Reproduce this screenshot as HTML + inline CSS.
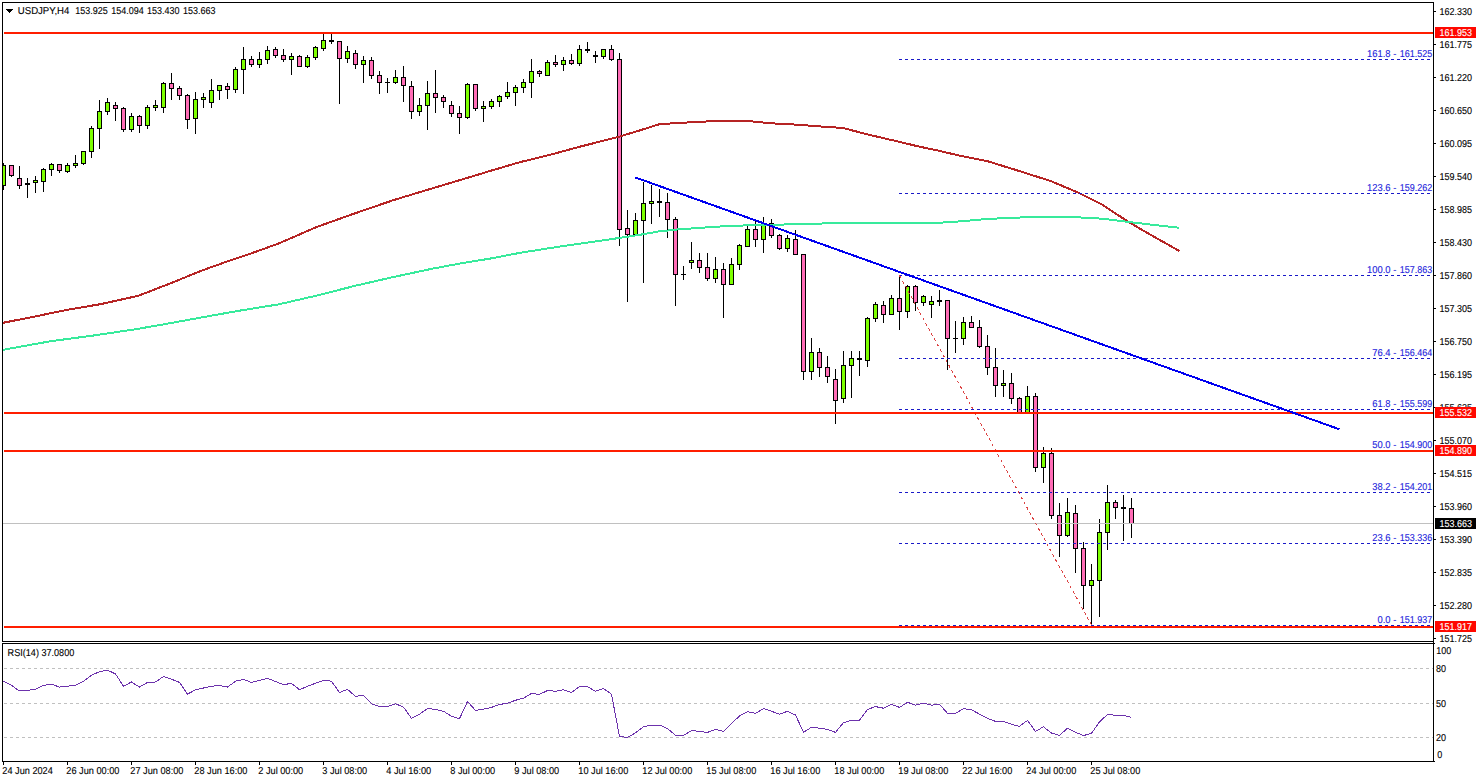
<!DOCTYPE html>
<html><head><meta charset="utf-8"><title>USDJPY,H4</title>
<style>
html,body{margin:0;padding:0;background:#fff;overflow:hidden}
svg{display:block}
text{font-family:"Liberation Sans",sans-serif;font-size:10px;fill:#000;stroke:#000;stroke-width:.12px;text-rendering:geometricPrecision}
.c{shape-rendering:crispEdges}
.fl{fill:#2424dc;stroke:#2424dc}
.w{fill:#fff;stroke:#fff}
</style></head><body>
<svg width="1479" height="782" viewBox="0 0 1479 782">
<rect width="1479" height="782" fill="#fff"/>
<g class="c">
<rect x="3" y="163" width="1" height="27"/><rect x="1" y="165" width="5" height="21"/><rect x="2" y="166" width="3" height="19" fill="#7dff00"/>
<rect x="11" y="165" width="1" height="12"/><rect x="9" y="165" width="5" height="11"/><rect x="10" y="166" width="3" height="9" fill="#ff6cb6"/>
<rect x="19" y="166" width="1" height="23"/><rect x="17" y="178" width="5" height="8"/><rect x="18" y="179" width="3" height="6" fill="#ff6cb6"/>
<rect x="27" y="178" width="1" height="20"/><rect x="25" y="183" width="5" height="2"/>
<rect x="35" y="176" width="1" height="17"/><rect x="33" y="180" width="5" height="3"/><rect x="34" y="181" width="3" height="1" fill="#7dff00"/>
<rect x="43" y="168" width="1" height="24"/><rect x="41" y="169" width="5" height="13"/><rect x="42" y="170" width="3" height="11" fill="#7dff00"/>
<rect x="51" y="163" width="1" height="13"/><rect x="49" y="164" width="5" height="6"/><rect x="50" y="165" width="3" height="4" fill="#7dff00"/>
<rect x="59" y="164" width="1" height="9"/><rect x="57" y="164" width="5" height="7"/><rect x="58" y="165" width="3" height="5" fill="#ff6cb6"/>
<rect x="67" y="163" width="1" height="10"/><rect x="65" y="165" width="5" height="7"/><rect x="66" y="166" width="3" height="5" fill="#7dff00"/>
<rect x="75" y="155" width="1" height="13"/><rect x="73" y="163" width="5" height="3"/><rect x="74" y="164" width="3" height="1" fill="#7dff00"/>
<rect x="83" y="151" width="1" height="14"/><rect x="81" y="151" width="5" height="13"/><rect x="82" y="152" width="3" height="11" fill="#7dff00"/>
<rect x="91" y="126" width="1" height="32"/><rect x="89" y="128" width="5" height="24"/><rect x="90" y="129" width="3" height="22" fill="#7dff00"/>
<rect x="99" y="100" width="1" height="49"/><rect x="97" y="111" width="5" height="18"/><rect x="98" y="112" width="3" height="16" fill="#7dff00"/>
<rect x="107" y="98" width="1" height="17"/><rect x="105" y="102" width="5" height="10"/><rect x="106" y="103" width="3" height="8" fill="#7dff00"/>
<rect x="115" y="102" width="1" height="19"/><rect x="113" y="105" width="5" height="4"/><rect x="114" y="106" width="3" height="2" fill="#ff6cb6"/>
<rect x="123" y="107" width="1" height="25"/><rect x="121" y="108" width="5" height="22"/><rect x="122" y="109" width="3" height="20" fill="#ff6cb6"/>
<rect x="131" y="113" width="1" height="19"/><rect x="129" y="116" width="5" height="14"/><rect x="130" y="117" width="3" height="12" fill="#7dff00"/>
<rect x="139" y="115" width="1" height="18"/><rect x="137" y="116" width="5" height="10"/><rect x="138" y="117" width="3" height="8" fill="#ff6cb6"/>
<rect x="147" y="105" width="1" height="24"/><rect x="145" y="107" width="5" height="19"/><rect x="146" y="108" width="3" height="17" fill="#7dff00"/>
<rect x="155" y="100" width="1" height="11"/><rect x="153" y="105" width="5" height="3"/><rect x="154" y="106" width="3" height="1" fill="#7dff00"/>
<rect x="163" y="82" width="1" height="31"/><rect x="161" y="83" width="5" height="25"/><rect x="162" y="84" width="3" height="23" fill="#7dff00"/>
<rect x="171" y="73" width="1" height="27"/><rect x="169" y="83" width="5" height="6"/><rect x="170" y="84" width="3" height="4" fill="#ff6cb6"/>
<rect x="179" y="86" width="1" height="14"/><rect x="177" y="88" width="5" height="8"/><rect x="178" y="89" width="3" height="6" fill="#ff6cb6"/>
<rect x="187" y="94" width="1" height="35"/><rect x="185" y="95" width="5" height="25"/><rect x="186" y="96" width="3" height="23" fill="#ff6cb6"/>
<rect x="195" y="92" width="1" height="42"/><rect x="193" y="99" width="5" height="20"/><rect x="194" y="100" width="3" height="18" fill="#7dff00"/>
<rect x="203" y="93" width="1" height="15"/><rect x="201" y="97" width="5" height="3"/><rect x="202" y="98" width="3" height="1" fill="#7dff00"/>
<rect x="211" y="79" width="1" height="29"/><rect x="209" y="90" width="5" height="13"/><rect x="210" y="91" width="3" height="11" fill="#7dff00"/>
<rect x="219" y="85" width="1" height="15"/><rect x="217" y="85" width="5" height="6"/><rect x="218" y="86" width="3" height="4" fill="#7dff00"/>
<rect x="227" y="83" width="1" height="16"/><rect x="225" y="86" width="5" height="4"/><rect x="226" y="87" width="3" height="2" fill="#ff6cb6"/>
<rect x="235" y="67" width="1" height="26"/><rect x="233" y="69" width="5" height="21"/><rect x="234" y="70" width="3" height="19" fill="#7dff00"/>
<rect x="243" y="47" width="1" height="47"/><rect x="241" y="59" width="5" height="11"/><rect x="242" y="60" width="3" height="9" fill="#7dff00"/>
<rect x="251" y="56" width="1" height="11"/><rect x="249" y="59" width="5" height="6"/><rect x="250" y="60" width="3" height="4" fill="#ff6cb6"/>
<rect x="259" y="52" width="1" height="16"/><rect x="257" y="59" width="5" height="6"/><rect x="258" y="60" width="3" height="4" fill="#7dff00"/>
<rect x="267" y="46" width="1" height="18"/><rect x="265" y="50" width="5" height="10"/><rect x="266" y="51" width="3" height="8" fill="#7dff00"/>
<rect x="275" y="47" width="1" height="11"/><rect x="273" y="49" width="5" height="7"/><rect x="274" y="50" width="3" height="5" fill="#ff6cb6"/>
<rect x="283" y="49" width="1" height="13"/><rect x="281" y="55" width="5" height="5"/><rect x="282" y="56" width="3" height="3" fill="#ff6cb6"/>
<rect x="291" y="53" width="1" height="22"/><rect x="289" y="56" width="5" height="4"/><rect x="290" y="57" width="3" height="2" fill="#7dff00"/>
<rect x="299" y="55" width="1" height="12"/><rect x="297" y="56" width="5" height="11"/><rect x="298" y="57" width="3" height="9" fill="#ff6cb6"/>
<rect x="307" y="55" width="1" height="13"/><rect x="305" y="57" width="5" height="10"/><rect x="306" y="58" width="3" height="8" fill="#7dff00"/>
<rect x="315" y="46" width="1" height="14"/><rect x="313" y="47" width="5" height="11"/><rect x="314" y="48" width="3" height="9" fill="#7dff00"/>
<rect x="323" y="34" width="1" height="17"/><rect x="321" y="40" width="5" height="9"/><rect x="322" y="41" width="3" height="7" fill="#7dff00"/>
<rect x="331" y="34" width="1" height="10"/><rect x="329" y="40" width="5" height="2"/>
<rect x="339" y="41" width="1" height="63"/><rect x="337" y="41" width="5" height="18"/><rect x="338" y="42" width="3" height="16" fill="#ff6cb6"/>
<rect x="347" y="46" width="1" height="17"/><rect x="345" y="51" width="5" height="8"/><rect x="346" y="52" width="3" height="6" fill="#7dff00"/>
<rect x="355" y="50" width="1" height="19"/><rect x="353" y="53" width="5" height="12"/><rect x="354" y="54" width="3" height="10" fill="#ff6cb6"/>
<rect x="363" y="56" width="1" height="27"/><rect x="361" y="60" width="5" height="5"/><rect x="362" y="61" width="3" height="3" fill="#7dff00"/>
<rect x="371" y="57" width="1" height="22"/><rect x="369" y="60" width="5" height="16"/><rect x="370" y="61" width="3" height="14" fill="#ff6cb6"/>
<rect x="379" y="71" width="1" height="23"/><rect x="377" y="75" width="5" height="8"/><rect x="378" y="76" width="3" height="6" fill="#ff6cb6"/>
<rect x="387" y="78" width="1" height="15"/><rect x="385" y="82" width="5" height="1"/>
<rect x="395" y="70" width="1" height="14"/><rect x="393" y="77" width="5" height="6"/><rect x="394" y="78" width="3" height="4" fill="#7dff00"/>
<rect x="403" y="66" width="1" height="36"/><rect x="401" y="77" width="5" height="9"/><rect x="402" y="78" width="3" height="7" fill="#ff6cb6"/>
<rect x="411" y="81" width="1" height="38"/><rect x="409" y="86" width="5" height="26"/><rect x="410" y="87" width="3" height="24" fill="#ff6cb6"/>
<rect x="419" y="98" width="1" height="18"/><rect x="417" y="105" width="5" height="7"/><rect x="418" y="106" width="3" height="5" fill="#7dff00"/>
<rect x="427" y="81" width="1" height="49"/><rect x="425" y="93" width="5" height="13"/><rect x="426" y="94" width="3" height="11" fill="#7dff00"/>
<rect x="435" y="70" width="1" height="43"/><rect x="433" y="93" width="5" height="5"/><rect x="434" y="94" width="3" height="3" fill="#ff6cb6"/>
<rect x="443" y="95" width="1" height="13"/><rect x="441" y="97" width="5" height="5"/><rect x="442" y="98" width="3" height="3" fill="#ff6cb6"/>
<rect x="451" y="101" width="1" height="16"/><rect x="449" y="105" width="5" height="9"/><rect x="450" y="106" width="3" height="7" fill="#ff6cb6"/>
<rect x="459" y="106" width="1" height="28"/><rect x="457" y="113" width="5" height="5"/><rect x="458" y="114" width="3" height="3" fill="#ff6cb6"/>
<rect x="467" y="83" width="1" height="36"/><rect x="465" y="84" width="5" height="34"/><rect x="466" y="85" width="3" height="32" fill="#7dff00"/>
<rect x="475" y="84" width="1" height="27"/><rect x="473" y="84" width="5" height="25"/><rect x="474" y="85" width="3" height="23" fill="#ff6cb6"/>
<rect x="483" y="101" width="1" height="21"/><rect x="481" y="106" width="5" height="3"/><rect x="482" y="107" width="3" height="1" fill="#7dff00"/>
<rect x="491" y="99" width="1" height="10"/><rect x="489" y="101" width="5" height="6"/><rect x="490" y="102" width="3" height="4" fill="#7dff00"/>
<rect x="499" y="95" width="1" height="12"/><rect x="497" y="96" width="5" height="6"/><rect x="498" y="97" width="3" height="4" fill="#7dff00"/>
<rect x="507" y="82" width="1" height="17"/><rect x="505" y="92" width="5" height="5"/><rect x="506" y="93" width="3" height="3" fill="#7dff00"/>
<rect x="515" y="85" width="1" height="21"/><rect x="513" y="87" width="5" height="6"/><rect x="514" y="88" width="3" height="4" fill="#7dff00"/>
<rect x="523" y="79" width="1" height="14"/><rect x="521" y="82" width="5" height="6"/><rect x="522" y="83" width="3" height="4" fill="#7dff00"/>
<rect x="531" y="59" width="1" height="39"/><rect x="529" y="71" width="5" height="12"/><rect x="530" y="72" width="3" height="10" fill="#7dff00"/>
<rect x="539" y="70" width="1" height="7"/><rect x="537" y="71" width="5" height="3"/><rect x="538" y="72" width="3" height="1" fill="#ff6cb6"/>
<rect x="547" y="60" width="1" height="16"/><rect x="545" y="62" width="5" height="14"/><rect x="546" y="63" width="3" height="12" fill="#7dff00"/>
<rect x="555" y="55" width="1" height="12"/><rect x="553" y="62" width="5" height="3"/><rect x="554" y="63" width="3" height="1" fill="#ff6cb6"/>
<rect x="563" y="57" width="1" height="14"/><rect x="561" y="60" width="5" height="5"/><rect x="562" y="61" width="3" height="3" fill="#7dff00"/>
<rect x="571" y="54" width="1" height="11"/><rect x="569" y="60" width="5" height="4"/><rect x="570" y="61" width="3" height="2" fill="#ff6cb6"/>
<rect x="579" y="45" width="1" height="21"/><rect x="577" y="49" width="5" height="15"/><rect x="578" y="50" width="3" height="13" fill="#7dff00"/>
<rect x="587" y="42" width="1" height="11"/><rect x="585" y="49" width="5" height="2"/>
<rect x="595" y="51" width="1" height="12"/><rect x="593" y="55" width="5" height="2"/>
<rect x="603" y="49" width="1" height="10"/><rect x="601" y="49" width="5" height="8"/><rect x="602" y="50" width="3" height="6" fill="#7dff00"/>
<rect x="611" y="45" width="1" height="16"/><rect x="609" y="49" width="5" height="11"/><rect x="610" y="50" width="3" height="9" fill="#ff6cb6"/>
<rect x="619" y="53" width="1" height="193"/><rect x="617" y="59" width="5" height="171"/><rect x="618" y="60" width="3" height="169" fill="#ff6cb6"/>
<rect x="627" y="210" width="1" height="92"/><rect x="625" y="228" width="5" height="7"/><rect x="626" y="229" width="3" height="5" fill="#ff6cb6"/>
<rect x="635" y="213" width="1" height="22"/><rect x="633" y="220" width="5" height="15"/><rect x="634" y="221" width="3" height="13" fill="#7dff00"/>
<rect x="643" y="182" width="1" height="101"/><rect x="641" y="203" width="5" height="18"/><rect x="642" y="204" width="3" height="16" fill="#7dff00"/>
<rect x="651" y="185" width="1" height="39"/><rect x="649" y="201" width="5" height="3"/><rect x="650" y="202" width="3" height="1" fill="#7dff00"/>
<rect x="659" y="189" width="1" height="28"/><rect x="657" y="201" width="5" height="2"/>
<rect x="667" y="193" width="1" height="45"/><rect x="665" y="202" width="5" height="18"/><rect x="666" y="203" width="3" height="16" fill="#ff6cb6"/>
<rect x="675" y="217" width="1" height="89"/><rect x="673" y="219" width="5" height="56"/><rect x="674" y="220" width="3" height="54" fill="#ff6cb6"/>
<rect x="683" y="266" width="1" height="14"/><rect x="681" y="274" width="5" height="1"/>
<rect x="691" y="242" width="1" height="27"/><rect x="689" y="260" width="5" height="3"/><rect x="690" y="261" width="3" height="1" fill="#7dff00"/>
<rect x="699" y="253" width="1" height="20"/><rect x="697" y="260" width="5" height="8"/><rect x="698" y="261" width="3" height="6" fill="#ff6cb6"/>
<rect x="707" y="253" width="1" height="28"/><rect x="705" y="267" width="5" height="12"/><rect x="706" y="268" width="3" height="10" fill="#ff6cb6"/>
<rect x="715" y="257" width="1" height="26"/><rect x="713" y="269" width="5" height="10"/><rect x="714" y="270" width="3" height="8" fill="#7dff00"/>
<rect x="723" y="263" width="1" height="55"/><rect x="721" y="269" width="5" height="16"/><rect x="722" y="270" width="3" height="14" fill="#ff6cb6"/>
<rect x="731" y="258" width="1" height="27"/><rect x="729" y="264" width="5" height="21"/><rect x="730" y="265" width="3" height="19" fill="#7dff00"/>
<rect x="739" y="244" width="1" height="26"/><rect x="737" y="245" width="5" height="20"/><rect x="738" y="246" width="3" height="18" fill="#7dff00"/>
<rect x="747" y="224" width="1" height="23"/><rect x="745" y="229" width="5" height="18"/><rect x="746" y="230" width="3" height="16" fill="#7dff00"/>
<rect x="755" y="221" width="1" height="26"/><rect x="753" y="229" width="5" height="11"/><rect x="754" y="230" width="3" height="9" fill="#ff6cb6"/>
<rect x="763" y="217" width="1" height="36"/><rect x="761" y="223" width="5" height="17"/><rect x="762" y="224" width="3" height="15" fill="#7dff00"/>
<rect x="771" y="219" width="1" height="19"/><rect x="769" y="223" width="5" height="13"/><rect x="770" y="224" width="3" height="11" fill="#ff6cb6"/>
<rect x="779" y="234" width="1" height="16"/><rect x="777" y="235" width="5" height="14"/><rect x="778" y="236" width="3" height="12" fill="#ff6cb6"/>
<rect x="787" y="235" width="1" height="17"/><rect x="785" y="238" width="5" height="11"/><rect x="786" y="239" width="3" height="9" fill="#7dff00"/>
<rect x="795" y="230" width="1" height="25"/><rect x="793" y="239" width="5" height="16"/><rect x="794" y="240" width="3" height="14" fill="#ff6cb6"/>
<rect x="803" y="254" width="1" height="126"/><rect x="801" y="254" width="5" height="118"/><rect x="802" y="255" width="3" height="116" fill="#ff6cb6"/>
<rect x="811" y="338" width="1" height="42"/><rect x="809" y="352" width="5" height="20"/><rect x="810" y="353" width="3" height="18" fill="#7dff00"/>
<rect x="819" y="348" width="1" height="29"/><rect x="817" y="352" width="5" height="16"/><rect x="818" y="353" width="3" height="14" fill="#ff6cb6"/>
<rect x="827" y="356" width="1" height="27"/><rect x="825" y="367" width="5" height="10"/><rect x="826" y="368" width="3" height="8" fill="#ff6cb6"/>
<rect x="835" y="369" width="1" height="55"/><rect x="833" y="379" width="5" height="22"/><rect x="834" y="380" width="3" height="20" fill="#ff6cb6"/>
<rect x="843" y="351" width="1" height="52"/><rect x="841" y="365" width="5" height="34"/><rect x="842" y="366" width="3" height="32" fill="#7dff00"/>
<rect x="851" y="351" width="1" height="47"/><rect x="849" y="358" width="5" height="8"/><rect x="850" y="359" width="3" height="6" fill="#7dff00"/>
<rect x="859" y="351" width="1" height="25"/><rect x="857" y="358" width="5" height="2"/>
<rect x="867" y="317" width="1" height="50"/><rect x="865" y="318" width="5" height="43"/><rect x="866" y="319" width="3" height="41" fill="#7dff00"/>
<rect x="875" y="302" width="1" height="20"/><rect x="873" y="304" width="5" height="15"/><rect x="874" y="305" width="3" height="13" fill="#7dff00"/>
<rect x="883" y="301" width="1" height="22"/><rect x="881" y="305" width="5" height="10"/><rect x="882" y="306" width="3" height="8" fill="#ff6cb6"/>
<rect x="891" y="295" width="1" height="20"/><rect x="889" y="298" width="5" height="17"/><rect x="890" y="299" width="3" height="15" fill="#7dff00"/>
<rect x="899" y="275" width="1" height="55"/><rect x="897" y="298" width="5" height="14"/><rect x="898" y="299" width="3" height="12" fill="#ff6cb6"/>
<rect x="907" y="285" width="1" height="33"/><rect x="905" y="286" width="5" height="26"/><rect x="906" y="287" width="3" height="24" fill="#7dff00"/>
<rect x="915" y="285" width="1" height="26"/><rect x="913" y="286" width="5" height="17"/><rect x="914" y="287" width="3" height="15" fill="#ff6cb6"/>
<rect x="923" y="295" width="1" height="11"/><rect x="921" y="296" width="5" height="7"/><rect x="922" y="297" width="3" height="5" fill="#7dff00"/>
<rect x="931" y="296" width="1" height="22"/><rect x="929" y="301" width="5" height="4"/><rect x="930" y="302" width="3" height="2" fill="#7dff00"/>
<rect x="939" y="290" width="1" height="16"/><rect x="937" y="300" width="5" height="2"/>
<rect x="947" y="300" width="1" height="70"/><rect x="945" y="300" width="5" height="39"/><rect x="946" y="301" width="3" height="37" fill="#ff6cb6"/>
<rect x="955" y="321" width="1" height="32"/><rect x="953" y="338" width="5" height="1"/>
<rect x="963" y="317" width="1" height="28"/><rect x="961" y="322" width="5" height="17"/><rect x="962" y="323" width="3" height="15" fill="#7dff00"/>
<rect x="971" y="316" width="1" height="12"/><rect x="969" y="322" width="5" height="6"/><rect x="970" y="323" width="3" height="4" fill="#ff6cb6"/>
<rect x="979" y="320" width="1" height="28"/><rect x="977" y="327" width="5" height="20"/><rect x="978" y="328" width="3" height="18" fill="#ff6cb6"/>
<rect x="987" y="335" width="1" height="40"/><rect x="985" y="346" width="5" height="22"/><rect x="986" y="347" width="3" height="20" fill="#ff6cb6"/>
<rect x="995" y="348" width="1" height="49"/><rect x="993" y="367" width="5" height="19"/><rect x="994" y="368" width="3" height="17" fill="#ff6cb6"/>
<rect x="1003" y="370" width="1" height="27"/><rect x="1001" y="383" width="5" height="3"/><rect x="1002" y="384" width="3" height="1" fill="#7dff00"/>
<rect x="1011" y="373" width="1" height="31"/><rect x="1009" y="383" width="5" height="16"/><rect x="1010" y="384" width="3" height="14" fill="#ff6cb6"/>
<rect x="1019" y="397" width="1" height="16"/><rect x="1017" y="398" width="5" height="15"/><rect x="1018" y="399" width="3" height="13" fill="#ff6cb6"/>
<rect x="1027" y="386" width="1" height="27"/><rect x="1025" y="396" width="5" height="17"/><rect x="1026" y="397" width="3" height="15" fill="#7dff00"/>
<rect x="1035" y="393" width="1" height="79"/><rect x="1033" y="396" width="5" height="72"/><rect x="1034" y="397" width="3" height="70" fill="#ff6cb6"/>
<rect x="1043" y="447" width="1" height="36"/><rect x="1041" y="453" width="5" height="15"/><rect x="1042" y="454" width="3" height="13" fill="#7dff00"/>
<rect x="1051" y="448" width="1" height="71"/><rect x="1049" y="453" width="5" height="63"/><rect x="1050" y="454" width="3" height="61" fill="#ff6cb6"/>
<rect x="1059" y="503" width="1" height="54"/><rect x="1057" y="515" width="5" height="21"/><rect x="1058" y="516" width="3" height="19" fill="#ff6cb6"/>
<rect x="1067" y="498" width="1" height="39"/><rect x="1065" y="512" width="5" height="24"/><rect x="1066" y="513" width="3" height="22" fill="#7dff00"/>
<rect x="1075" y="505" width="1" height="68"/><rect x="1073" y="513" width="5" height="36"/><rect x="1074" y="514" width="3" height="34" fill="#ff6cb6"/>
<rect x="1083" y="542" width="1" height="67"/><rect x="1081" y="548" width="5" height="38"/><rect x="1082" y="549" width="3" height="36" fill="#ff6cb6"/>
<rect x="1091" y="564" width="1" height="62"/><rect x="1089" y="580" width="5" height="6"/><rect x="1090" y="581" width="3" height="4" fill="#7dff00"/>
<rect x="1099" y="519" width="1" height="98"/><rect x="1097" y="532" width="5" height="49"/><rect x="1098" y="533" width="3" height="47" fill="#7dff00"/>
<rect x="1107" y="485" width="1" height="65"/><rect x="1105" y="502" width="5" height="31"/><rect x="1106" y="503" width="3" height="29" fill="#7dff00"/>
<rect x="1115" y="500" width="1" height="19"/><rect x="1113" y="502" width="5" height="6"/><rect x="1114" y="503" width="3" height="4" fill="#ff6cb6"/>
<rect x="1123" y="495" width="1" height="46"/><rect x="1121" y="507" width="5" height="2"/>
<rect x="1131" y="498" width="1" height="40"/><rect x="1129" y="508" width="5" height="16"/><rect x="1130" y="509" width="3" height="14" fill="#ff6cb6"/>
</g>
<rect x="0" y="0" width="3" height="782" fill="#fff"/>
<path d="M2.0 323.0 L33.8 316.7 L67.6 309.8 L101.4 304.0 L138.6 295.7 L169.0 283.9 L202.8 270.2 L228.2 261.1 L250.0 253.8 L278.4 243.6 L316.7 227.0 L355.1 213.3 L393.5 200.1 L431.8 188.5 L460.6 179.9 L490.0 171.0 L519.7 162.2 L549.4 155.0 L579.1 146.9 L618.8 136.8 L638.6 130.8 L659.4 124.2 L678.3 123.0 L698.1 121.9 L717.9 120.9 L745.8 120.8 L769.6 123.2 L799.3 124.8 L819.1 126.4 L842.9 128.0 L868.7 134.7 L898.4 141.6 L918.3 146.4 L938.1 150.6 L960.0 155.7 L987.8 161.3 L1019.5 171.1 L1051.2 181.2 L1079.0 193.0 L1102.7 204.9 L1128.5 222.0 L1148.3 233.5 L1179.3 251.0" class="c" fill="none" stroke="#b62424" stroke-width="2" stroke-linejoin="round"/>
<path d="M2.0 350.0 L50.7 341.2 L93.0 335.6 L135.2 329.3 L169.0 323.4 L202.8 317.2 L240.0 310.6 L278.4 304.4 L316.7 295.6 L355.1 285.8 L393.5 277.0 L431.8 268.8 L460.6 263.4 L490.0 258.6 L519.7 252.9 L559.3 246.6 L599.0 241.0 L618.8 238.0 L638.6 235.0 L658.4 231.5 L678.3 229.4 L698.1 228.0 L717.9 226.6 L740.0 225.6 L759.7 225.0 L799.3 224.2 L839.0 223.0 L878.6 222.8 L918.3 222.9 L938.1 222.8 L957.9 221.5 L989.7 218.8 L1027.4 217.2 L1075.0 217.2 L1102.7 218.7 L1128.5 222.0 L1158.3 225.4 L1179.3 227.8" class="c" fill="none" stroke="#38ea9c" stroke-width="2" stroke-linejoin="round"/>
<rect class="c" x="3" y="523" width="1430" height="1" fill="#c0c0c0"/>
<line class="c" x1="899" x2="1430" y1="59.5" y2="59.5" stroke="#1a1ac8" stroke-width="1" stroke-dasharray="3 3"/><text class="fl" x="1396.3" y="57" text-anchor="end" textLength="29.3" lengthAdjust="spacingAndGlyphs">161.8 -</text><text class="fl" x="1432.2" y="57" text-anchor="end" textLength="32.4" lengthAdjust="spacingAndGlyphs">161.525</text>
<line class="c" x1="899" x2="1430" y1="193.5" y2="193.5" stroke="#1a1ac8" stroke-width="1" stroke-dasharray="3 3"/><text class="fl" x="1396.3" y="191" text-anchor="end" textLength="29.3" lengthAdjust="spacingAndGlyphs">123.6 -</text><text class="fl" x="1432.2" y="191" text-anchor="end" textLength="32.4" lengthAdjust="spacingAndGlyphs">159.262</text>
<line class="c" x1="899" x2="1430" y1="275.5" y2="275.5" stroke="#1a1ac8" stroke-width="1" stroke-dasharray="3 3"/><text class="fl" x="1396.3" y="273" text-anchor="end" textLength="29.3" lengthAdjust="spacingAndGlyphs">100.0 -</text><text class="fl" x="1432.2" y="273" text-anchor="end" textLength="32.4" lengthAdjust="spacingAndGlyphs">157.863</text>
<line class="c" x1="899" x2="1430" y1="358.5" y2="358.5" stroke="#1a1ac8" stroke-width="1" stroke-dasharray="3 3"/><text class="fl" x="1396.3" y="356" text-anchor="end" textLength="24.0" lengthAdjust="spacingAndGlyphs">76.4 -</text><text class="fl" x="1432.2" y="356" text-anchor="end" textLength="32.4" lengthAdjust="spacingAndGlyphs">156.464</text>
<line class="c" x1="899" x2="1430" y1="409.5" y2="409.5" stroke="#1a1ac8" stroke-width="1" stroke-dasharray="3 3"/><text class="fl" x="1396.3" y="407" text-anchor="end" textLength="24.0" lengthAdjust="spacingAndGlyphs">61.8 -</text><text class="fl" x="1432.2" y="407" text-anchor="end" textLength="32.4" lengthAdjust="spacingAndGlyphs">155.599</text>
<line class="c" x1="899" x2="1430" y1="450.5" y2="450.5" stroke="#1a1ac8" stroke-width="1" stroke-dasharray="3 3"/><text class="fl" x="1396.3" y="448" text-anchor="end" textLength="24.0" lengthAdjust="spacingAndGlyphs">50.0 -</text><text class="fl" x="1432.2" y="448" text-anchor="end" textLength="32.4" lengthAdjust="spacingAndGlyphs">154.900</text>
<line class="c" x1="899" x2="1430" y1="492.5" y2="492.5" stroke="#1a1ac8" stroke-width="1" stroke-dasharray="3 3"/><text class="fl" x="1396.3" y="490" text-anchor="end" textLength="24.0" lengthAdjust="spacingAndGlyphs">38.2 -</text><text class="fl" x="1432.2" y="490" text-anchor="end" textLength="32.4" lengthAdjust="spacingAndGlyphs">154.201</text>
<line class="c" x1="899" x2="1430" y1="543.5" y2="543.5" stroke="#1a1ac8" stroke-width="1" stroke-dasharray="3 3"/><text class="fl" x="1396.3" y="541" text-anchor="end" textLength="24.0" lengthAdjust="spacingAndGlyphs">23.6 -</text><text class="fl" x="1432.2" y="541" text-anchor="end" textLength="32.4" lengthAdjust="spacingAndGlyphs">153.336</text>
<line class="c" x1="899" x2="1430" y1="625.5" y2="625.5" stroke="#1a1ac8" stroke-width="1" stroke-dasharray="3 3"/><text class="fl" x="1396.3" y="623" text-anchor="end" textLength="18.8" lengthAdjust="spacingAndGlyphs">0.0 -</text><text class="fl" x="1432.2" y="623" text-anchor="end" textLength="32.4" lengthAdjust="spacingAndGlyphs">151.937</text>
<line class="c" x1="899.5" y1="275.5" x2="1091.5" y2="625" stroke="#dc4444" stroke-width="1" stroke-dasharray="3 3"/>
<g><rect class="c" x="1434" y="11" width="2" height="1"/><text x="1439.4" y="15" textLength="32.5" lengthAdjust="spacingAndGlyphs">162.330</text>
<rect class="c" x="1434" y="44" width="2" height="1"/><text x="1439.4" y="48" textLength="32.5" lengthAdjust="spacingAndGlyphs">161.775</text>
<rect class="c" x="1434" y="77" width="2" height="1"/><text x="1439.4" y="81" textLength="32.5" lengthAdjust="spacingAndGlyphs">161.220</text>
<rect class="c" x="1434" y="110" width="2" height="1"/><text x="1439.4" y="114" textLength="32.5" lengthAdjust="spacingAndGlyphs">160.650</text>
<rect class="c" x="1434" y="143" width="2" height="1"/><text x="1439.4" y="147" textLength="32.5" lengthAdjust="spacingAndGlyphs">160.095</text>
<rect class="c" x="1434" y="176" width="2" height="1"/><text x="1439.4" y="180" textLength="32.5" lengthAdjust="spacingAndGlyphs">159.540</text>
<rect class="c" x="1434" y="209" width="2" height="1"/><text x="1439.4" y="213" textLength="32.5" lengthAdjust="spacingAndGlyphs">158.985</text>
<rect class="c" x="1434" y="242" width="2" height="1"/><text x="1439.4" y="246" textLength="32.5" lengthAdjust="spacingAndGlyphs">158.430</text>
<rect class="c" x="1434" y="275" width="2" height="1"/><text x="1439.4" y="279" textLength="32.5" lengthAdjust="spacingAndGlyphs">157.860</text>
<rect class="c" x="1434" y="308" width="2" height="1"/><text x="1439.4" y="312" textLength="32.5" lengthAdjust="spacingAndGlyphs">157.305</text>
<rect class="c" x="1434" y="341" width="2" height="1"/><text x="1439.4" y="345" textLength="32.5" lengthAdjust="spacingAndGlyphs">156.750</text>
<rect class="c" x="1434" y="374" width="2" height="1"/><text x="1439.4" y="378" textLength="32.5" lengthAdjust="spacingAndGlyphs">156.195</text>
<rect class="c" x="1434" y="407" width="2" height="1"/><text x="1439.4" y="411" textLength="32.5" lengthAdjust="spacingAndGlyphs">155.625</text>
<rect class="c" x="1434" y="440" width="2" height="1"/><text x="1439.4" y="444" textLength="32.5" lengthAdjust="spacingAndGlyphs">155.070</text>
<rect class="c" x="1434" y="473" width="2" height="1"/><text x="1439.4" y="477" textLength="32.5" lengthAdjust="spacingAndGlyphs">154.515</text>
<rect class="c" x="1434" y="506" width="2" height="1"/><text x="1439.4" y="510" textLength="32.5" lengthAdjust="spacingAndGlyphs">153.960</text>
<rect class="c" x="1434" y="539" width="2" height="1"/><text x="1439.4" y="543" textLength="32.5" lengthAdjust="spacingAndGlyphs">153.390</text>
<rect class="c" x="1434" y="572" width="2" height="1"/><text x="1439.4" y="576" textLength="32.5" lengthAdjust="spacingAndGlyphs">152.835</text>
<rect class="c" x="1434" y="605" width="2" height="1"/><text x="1439.4" y="609" textLength="32.5" lengthAdjust="spacingAndGlyphs">152.280</text>
<rect class="c" x="1434" y="638" width="2" height="1"/><text x="1439.4" y="642" textLength="32.5" lengthAdjust="spacingAndGlyphs">151.725</text>
</g>
<rect class="c" x="4" y="32" width="1429" height="2" fill="#ff1e00"/><rect class="c" x="1435" y="27" width="41" height="11" fill="#ff0800"/><text class="w" x="1439.4" y="36" textLength="32.5" lengthAdjust="spacingAndGlyphs">161.953</text>
<rect class="c" x="4" y="412" width="1429" height="2" fill="#ff1e00"/><rect class="c" x="1435" y="407" width="41" height="11" fill="#ff0800"/><text class="w" x="1439.4" y="416" textLength="32.5" lengthAdjust="spacingAndGlyphs">155.532</text>
<rect class="c" x="4" y="450" width="1429" height="2" fill="#ff1e00"/><rect class="c" x="1435" y="445" width="41" height="11" fill="#ff0800"/><text class="w" x="1439.4" y="454" textLength="32.5" lengthAdjust="spacingAndGlyphs">154.890</text>
<rect class="c" x="4" y="626" width="1429" height="2" fill="#ff1e00"/><rect class="c" x="1435" y="621" width="41" height="11" fill="#ff0800"/><text class="w" x="1439.4" y="630" textLength="32.5" lengthAdjust="spacingAndGlyphs">151.917</text>
<line x1="635.5" y1="177.5" x2="1339.5" y2="429.3" class="c" stroke="#0000f0" stroke-width="2"/>
<g class="c"><rect x="2" y="2" width="1432" height="1"/><rect x="2" y="2" width="1" height="640"/><rect x="2" y="641" width="1432" height="1"/><rect x="1433" y="2" width="1" height="760"/><rect x="2" y="643" width="1433" height="1"/><rect x="2" y="643" width="1" height="119"/><rect x="2" y="761" width="1433" height="1"/></g>
<rect class="c" x="1435" y="518" width="41" height="11" fill="#000"/><text class="w" x="1439.4" y="527" textLength="32.5" lengthAdjust="spacingAndGlyphs">153.663</text>
<line class="c" x1="4" x2="1433" y1="668.5" y2="668.5" stroke="#c0c0c0" stroke-width="1" stroke-dasharray="3 3"/><text x="1436" y="672" textLength="10.0" lengthAdjust="spacingAndGlyphs">80</text>
<line class="c" x1="4" x2="1433" y1="703.5" y2="703.5" stroke="#c0c0c0" stroke-width="1" stroke-dasharray="3 3"/><text x="1436" y="707" textLength="10.0" lengthAdjust="spacingAndGlyphs">50</text>
<line class="c" x1="4" x2="1433" y1="737.5" y2="737.5" stroke="#c0c0c0" stroke-width="1" stroke-dasharray="3 3"/><text x="1436" y="741" textLength="10.0" lengthAdjust="spacingAndGlyphs">20</text>
<text x="1436.2" y="654" textLength="15.0" lengthAdjust="spacingAndGlyphs">100</text><text x="1437.2" y="758" textLength="5.0" lengthAdjust="spacingAndGlyphs">0</text>
<path d="M3.5 681.2 L11.5 685.4 L19.5 691.0 L27.5 690.5 L35.5 689.1 L43.5 685.4 L51.5 684.2 L59.5 687.1 L67.5 686.3 L75.5 685.1 L83.5 681.2 L91.5 675.3 L99.5 671.6 L107.5 670.2 L115.5 673.9 L123.5 686.3 L131.5 682.0 L139.5 687.1 L147.5 682.4 L155.5 682.0 L163.5 676.5 L171.5 679.2 L179.5 682.4 L187.5 694.2 L195.5 689.7 L203.5 688.0 L211.5 686.3 L219.5 685.4 L227.5 687.1 L235.5 681.2 L243.5 679.5 L251.5 682.4 L259.5 680.4 L267.5 678.3 L275.5 681.5 L283.5 684.6 L291.5 683.4 L299.5 689.7 L307.5 686.3 L315.5 683.2 L323.5 680.4 L331.5 681.2 L339.5 692.5 L347.5 689.3 L355.5 696.4 L363.5 695.2 L371.5 703.7 L379.5 706.6 L387.5 706.6 L395.5 703.7 L403.5 707.1 L411.5 718.4 L419.5 714.2 L427.5 708.6 L435.5 709.4 L443.5 711.3 L451.5 716.2 L459.5 718.7 L467.5 701.5 L475.5 710.4 L483.5 709.1 L491.5 707.4 L499.5 704.5 L507.5 703.2 L515.5 700.3 L523.5 698.1 L531.5 693.5 L539.5 694.4 L547.5 690.5 L555.5 691.3 L563.5 689.7 L571.5 692.5 L579.5 686.6 L587.5 686.6 L595.5 691.3 L603.5 688.5 L611.5 694.2 L619.5 736.5 L627.5 737.5 L635.5 732.8 L643.5 726.8 L651.5 725.1 L659.5 725.1 L667.5 728.5 L675.5 735.3 L683.5 735.3 L691.5 730.6 L699.5 731.4 L707.5 732.4 L715.5 729.4 L723.5 731.5 L731.5 723.7 L739.5 715.9 L747.5 711.6 L755.5 713.3 L763.5 708.6 L771.5 711.3 L779.5 714.2 L787.5 711.3 L795.5 715.0 L803.5 732.2 L811.5 727.3 L819.5 728.2 L827.5 729.4 L835.5 732.4 L843.5 722.6 L851.5 720.4 L859.5 720.1 L867.5 709.4 L875.5 706.6 L883.5 708.2 L891.5 704.4 L899.5 707.4 L907.5 702.3 L915.5 705.2 L923.5 703.2 L931.5 705.2 L939.5 704.4 L947.5 713.3 L955.5 713.3 L963.5 708.6 L971.5 709.7 L979.5 714.2 L987.5 718.4 L995.5 721.4 L1003.5 721.4 L1011.5 724.3 L1019.5 726.3 L1027.5 720.4 L1035.5 731.4 L1043.5 726.8 L1051.5 733.1 L1059.5 735.3 L1067.5 728.2 L1075.5 732.2 L1083.5 735.6 L1091.5 733.3 L1099.5 721.8 L1107.5 714.5 L1115.5 715.3 L1123.5 715.3 L1131.5 717.5" class="c" fill="none" stroke="#6c32ac" stroke-width="1" stroke-linejoin="round"/>
<text x="7.6" y="656" textLength="66.7" lengthAdjust="spacingAndGlyphs">RSI(14) 37.0800</text>
<path class="c" d="M6 9h7v1h-7zM7 10h5v1h-5zM8 11h3v1h-3zM9 12h1v1h-1z"/>
<text x="17.8" y="14" textLength="51.6" lengthAdjust="spacingAndGlyphs">USDJPY,H4</text><text x="75.3" y="14" textLength="32.5" lengthAdjust="spacingAndGlyphs">153.925</text><text x="111.2" y="14" textLength="32.5" lengthAdjust="spacingAndGlyphs">154.094</text><text x="147.1" y="14" textLength="32.5" lengthAdjust="spacingAndGlyphs">153.430</text><text x="183.1" y="14" textLength="32.5" lengthAdjust="spacingAndGlyphs">153.663</text>
<rect class="c" x="3" y="762" width="1" height="3"/><text x="2.3" y="774" textLength="50.5" lengthAdjust="spacingAndGlyphs">24 Jun 2024</text>
<rect class="c" x="67" y="762" width="1" height="3"/><text x="66.3" y="774" textLength="53.1" lengthAdjust="spacingAndGlyphs">26 Jun 00:00</text>
<rect class="c" x="131" y="762" width="1" height="3"/><text x="130.3" y="774" textLength="53.1" lengthAdjust="spacingAndGlyphs">27 Jun 08:00</text>
<rect class="c" x="195" y="762" width="1" height="3"/><text x="194.3" y="774" textLength="53.1" lengthAdjust="spacingAndGlyphs">28 Jun 16:00</text>
<rect class="c" x="259" y="762" width="1" height="3"/><text x="258.3" y="774" textLength="44.9" lengthAdjust="spacingAndGlyphs">2 Jul 00:00</text>
<rect class="c" x="323" y="762" width="1" height="3"/><text x="322.3" y="774" textLength="44.9" lengthAdjust="spacingAndGlyphs">3 Jul 08:00</text>
<rect class="c" x="387" y="762" width="1" height="3"/><text x="386.3" y="774" textLength="44.9" lengthAdjust="spacingAndGlyphs">4 Jul 16:00</text>
<rect class="c" x="451" y="762" width="1" height="3"/><text x="450.3" y="774" textLength="44.9" lengthAdjust="spacingAndGlyphs">8 Jul 00:00</text>
<rect class="c" x="515" y="762" width="1" height="3"/><text x="514.3" y="774" textLength="44.9" lengthAdjust="spacingAndGlyphs">9 Jul 08:00</text>
<rect class="c" x="579" y="762" width="1" height="3"/><text x="578.3" y="774" textLength="50.0" lengthAdjust="spacingAndGlyphs">10 Jul 16:00</text>
<rect class="c" x="643" y="762" width="1" height="3"/><text x="642.3" y="774" textLength="50.0" lengthAdjust="spacingAndGlyphs">12 Jul 00:00</text>
<rect class="c" x="707" y="762" width="1" height="3"/><text x="706.3" y="774" textLength="50.0" lengthAdjust="spacingAndGlyphs">15 Jul 08:00</text>
<rect class="c" x="771" y="762" width="1" height="3"/><text x="770.3" y="774" textLength="50.0" lengthAdjust="spacingAndGlyphs">16 Jul 16:00</text>
<rect class="c" x="835" y="762" width="1" height="3"/><text x="834.3" y="774" textLength="50.0" lengthAdjust="spacingAndGlyphs">18 Jul 00:00</text>
<rect class="c" x="899" y="762" width="1" height="3"/><text x="898.3" y="774" textLength="50.0" lengthAdjust="spacingAndGlyphs">19 Jul 08:00</text>
<rect class="c" x="963" y="762" width="1" height="3"/><text x="962.3" y="774" textLength="50.0" lengthAdjust="spacingAndGlyphs">22 Jul 16:00</text>
<rect class="c" x="1027" y="762" width="1" height="3"/><text x="1026.3" y="774" textLength="50.0" lengthAdjust="spacingAndGlyphs">24 Jul 00:00</text>
<rect class="c" x="1091" y="762" width="1" height="3"/><text x="1090.3" y="774" textLength="50.0" lengthAdjust="spacingAndGlyphs">25 Jul 08:00</text>
</svg>
</body></html>
